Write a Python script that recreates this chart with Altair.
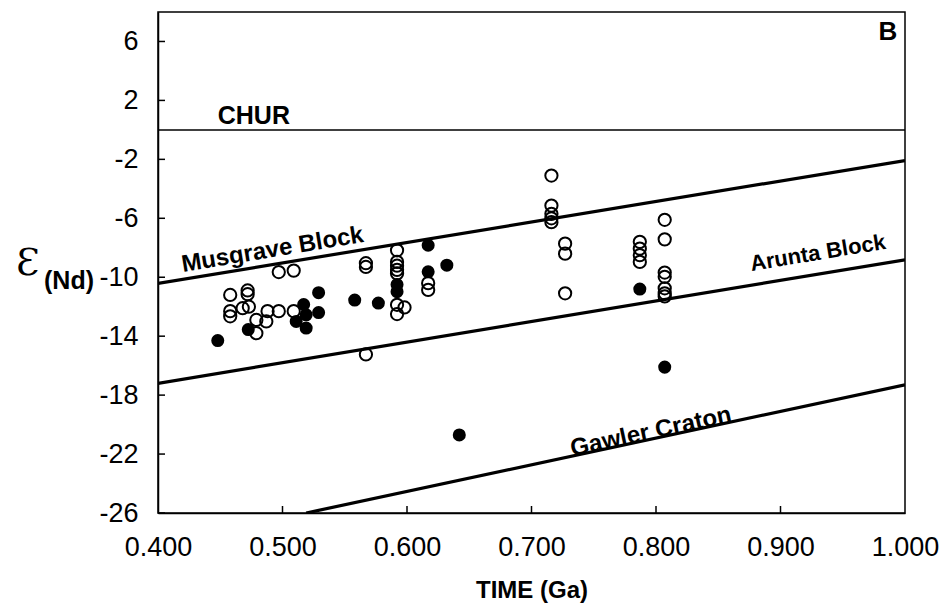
import altair as alt
import pandas as pd

# ---- data ----
open_time = [0.458, 0.472, 0.472, 0.458, 0.458, 0.468, 0.473, 0.479, 0.479, 0.488,
             0.487, 0.497, 0.509, 0.497, 0.509, 0.567, 0.567, 0.567, 0.592, 0.592,
             0.592, 0.592, 0.592, 0.592, 0.598, 0.592, 0.617, 0.617, 0.716, 0.716,
             0.716, 0.716, 0.716, 0.727, 0.727, 0.727, 0.787, 0.787, 0.787, 0.787,
             0.807, 0.807, 0.807, 0.807, 0.807, 0.807, 0.807]
open_eps = [-11.2, -10.9, -11.15, -12.3, -12.65, -12.1, -12.0, -12.9, -13.8, -12.3,
            -13.0, -12.3, -12.3, -9.65, -9.55, -9.05, -9.3, -15.24, -8.17, -8.96,
            -9.22, -9.5, -9.74, -11.87, -12.05, -12.5, -10.4, -10.86, -3.1, -5.14,
            -5.7, -6.0, -6.26, -7.72, -8.4, -11.09, -7.6, -8.06, -8.5, -8.96,
            -6.1, -7.43, -9.68, -9.97, -10.75, -11.09, -11.3]

filled_time = [0.448, 0.4725, 0.517, 0.511, 0.519, 0.519, 0.529, 0.529, 0.558, 0.577,
               0.592, 0.592, 0.617, 0.617, 0.632, 0.642, 0.787, 0.807]
filled_eps = [-14.3, -13.55, -11.85, -13.0, -13.45, -12.55, -11.05, -12.4, -11.55, -11.75,
              -10.5, -10.98, -7.83, -9.63, -9.18, -20.7, -10.8, -16.1]

chur_time = [0.4, 1.0]
chur_eps = [0.0, 0.0]

block_names = ["Musgrave Block", "Arunta Block", "Gawler Craton"]
block_t0 = [0.4, 0.4, 0.519]
block_e0 = [-10.42, -17.2, -26.0]
block_t1 = [1.0, 1.0, 1.0]
block_e1 = [-2.08, -8.82, -17.3]

label_text = ["CHUR", "Musgrave Block", "Arunta Block", "Gawler Craton"]
label_time = [0.477, 0.492, 0.930, 0.796]
label_eps = [0.95, -8.15, -8.35, -20.5]

x_ticks = [0.4, 0.5, 0.6, 0.7, 0.8, 0.9, 1.0]
y_ticks = [-26, -22, -18, -14, -10, -6, -2, 2, 6]

# ---- tables ----
df_open = pd.DataFrame({"t": open_time, "e": open_eps})
df_filled = pd.DataFrame({"t": filled_time, "e": filled_eps})
df_chur = pd.DataFrame({"t": chur_time, "e": chur_eps})
rows = []
for n, a, b, c, d in zip(block_names, block_t0, block_e0, block_t1, block_e1):
    rows.append({"name": n, "t": a, "e": b})
    rows.append({"name": n, "t": c, "e": d})
df_blocks = pd.DataFrame(rows)
df_labels = pd.DataFrame({"text": label_text, "t": label_time, "e": label_eps})
df_xt = pd.DataFrame({"t": x_ticks[1:-1]})
df_yt = pd.DataFrame({"e": y_ticks})

FONT = "Liberation Sans"
W, H = 747, 501

xs = alt.Scale(domain=[0.4, 1.0], nice=False, zero=False)
ys = alt.Scale(domain=[-26, 8], nice=False, zero=False)

X = alt.X("t:Q", scale=xs,
          axis=alt.Axis(values=x_ticks, format=".3f", ticks=False, grid=False,
                        labelFlush=False, labelOverlap=False,
                        labelFontSize=27, labelFont=FONT, labelColor="black",
                        labelPadding=21, domainColor="black", domainWidth=1.5,
                        title="TIME (Ga)", titleFont=FONT, titleFontSize=24,
                        titleFontWeight="bold", titleColor="black", titlePadding=18))
Y = alt.Y("e:Q", scale=ys,
          axis=alt.Axis(values=y_ticks, ticks=False, grid=False,
                        labelExpr="'' + datum.value", labelOverlap=False,
                        labelFlush=False,
                        labelFontSize=27, labelFont=FONT, labelColor="black",
                        labelPadding=20, domainColor="black", domainWidth=1.5,
                        title=None))

base_open = alt.Chart(df_open).mark_point(
    shape="circle", filled=False, size=150, color="black", strokeWidth=2, opacity=1
).encode(x=X, y=Y)

base_filled = alt.Chart(df_filled).mark_point(
    shape="circle", filled=True, size=170, color="black", opacity=1
).encode(x=alt.X("t:Q", scale=xs), y=alt.Y("e:Q", scale=ys))

chur = alt.Chart(df_chur).mark_line(color="black", strokeWidth=1.5).encode(
    x=alt.X("t:Q", scale=xs), y=alt.Y("e:Q", scale=ys))

blocks = alt.Chart(df_blocks).mark_line(color="black", strokeWidth=3.2, clip=True).encode(
    x=alt.X("t:Q", scale=xs), y=alt.Y("e:Q", scale=ys), detail="name:N")

def label(i, angle, size):
    return alt.Chart(df_labels.iloc[[i]]).mark_text(
        font=FONT, fontSize=size, fontWeight="bold", color="black", angle=angle,
        align="center", baseline="middle"
    ).encode(x=alt.X("t:Q", scale=xs), y=alt.Y("e:Q", scale=ys), text="text:N")

labels = [label(0, 0, 25), label(1, 350.6, 24), label(2, 350.6, 22), label(3, 347.8, 24)]

xticks = alt.Chart(df_xt).mark_rule(color="black", strokeWidth=1.5).encode(
    x=alt.X("t:Q", scale=xs), y=alt.value(H), y2=alt.value(H - 7))
yticks = alt.Chart(df_yt).mark_rule(color="black", strokeWidth=1.5).encode(
    y=alt.Y("e:Q", scale=ys), x=alt.value(0), x2=alt.value(7))

panel_b = alt.Chart(pd.DataFrame({"s": ["B"]})).mark_text(
    font=FONT, fontSize=26, fontWeight="bold", color="black", align="center",
    baseline="middle").encode(text="s:N", x=alt.value(730), y=alt.value(20))

eps_sym = alt.Chart(pd.DataFrame({"s": ["\u0190"]})).mark_text(
    font="DejaVu Serif", fontSize=38, color="black", align="left",
    baseline="middle").encode(text="s:N", x=alt.value(-142), y=alt.value(252))
eps_sub = alt.Chart(pd.DataFrame({"s": ["(Nd)"]})).mark_text(
    font=FONT, fontSize=25, fontWeight="bold", color="black", align="left",
    baseline="middle").encode(text="s:N", x=alt.value(-114), y=alt.value(269))

chart = alt.layer(
    chur, blocks, base_open, base_filled, *labels, xticks, yticks, panel_b, eps_sym, eps_sub
).properties(
    width=W, height=H,
    autosize=alt.AutoSizeParams(type="none"),
    padding={"left": 150, "top": 4, "right": 35, "bottom": 90},
    background="white",
).configure_view(stroke="black", strokeWidth=1.5)

chart.save("out.html", embed_options={"renderer": "svg", "actions": False})
